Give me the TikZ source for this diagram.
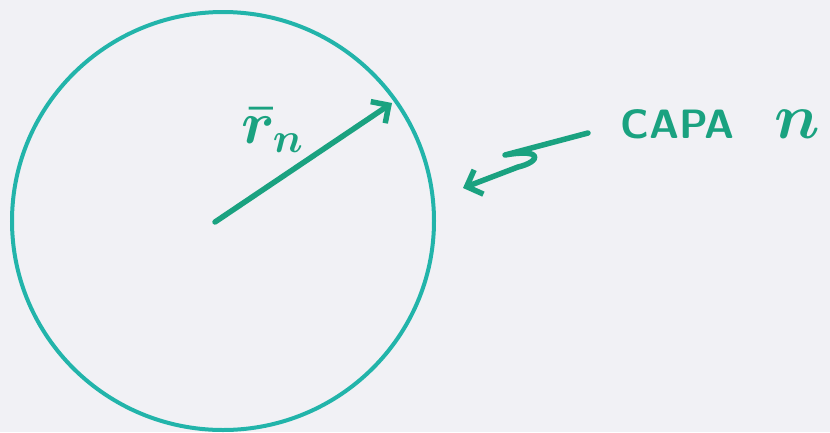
\RequirePackage{fix-cm}
\documentclass[tikz,border=0pt]{standalone}
\usepackage{amsmath,amssymb}
\usepackage{tikz}
\usetikzlibrary{arrows.meta,shapes.geometric}

\definecolor{capateal}{RGB}{34,180,170}
\definecolor{capagreen}{RGB}{26,162,128}
\definecolor{paper}{RGB}{241,241,245}

\tikzset{
  layerline/.style={draw=capateal, line width=4pt},
  pointer/.style={draw=capagreen, line width=5.5pt, line cap=round, line join=round,
    -{Straight Barb[length=13pt, width=26pt, line width=5.5pt]}},
  handlabel/.style={text=capagreen, inner sep=0pt}
}

\begin{document}
\begin{tikzpicture}[x=1pt,y=-1pt]
    \fill[paper] (0,0) rectangle (830,432);
    \useasboundingbox (0,0) rectangle (830,432);

    % la capa n
    \node[layerline, ellipse, minimum width=422pt, minimum height=418pt, inner sep=0pt] (layer) at (223,221) {};

    % radio
    \coordinate (center) at (215,222);
    \coordinate (rtip) at (392,103);
    \draw[pointer] (center) -- (rtip);
    \node[handlabel, anchor=base west, font=\fontsize{60}{60}\selectfont\boldmath] (rlabel) at (241,143) {$\bar{r}_n$};

    % etiqueta
    \node[handlabel, anchor=base west, font=\sffamily\bfseries\fontsize{41}{41}\selectfont] (capa) at (620,138)
      {CAPA\hspace{40pt}{\fontsize{64}{64}\selectfont\boldmath$n$}};
    \coordinate (tail) at (588,133);
    \coordinate (ltip) at (463,188);
    \draw[pointer] (tail) -- (505,155) .. controls (545,148) and (540,162) .. (518,167) -- (ltip);
\end{tikzpicture}
\end{document}
